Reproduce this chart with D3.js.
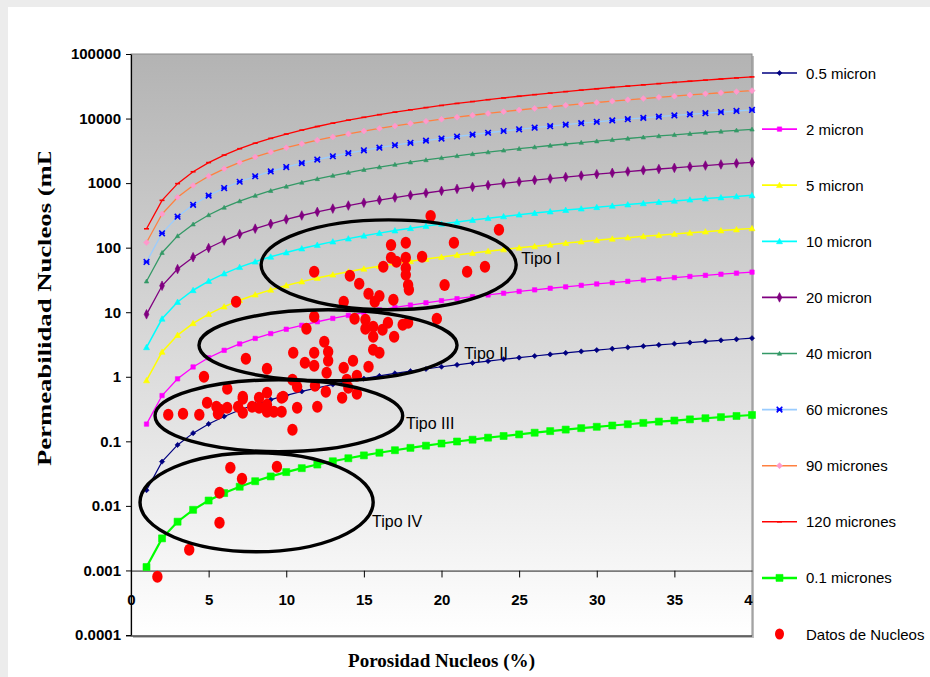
<!DOCTYPE html>
<html><head><meta charset="utf-8">
<script src="https://cdn.jsdelivr.net/npm/d3@7"></script>
<style>body{margin:0;background:#fff}svg{display:block}</style>
</head><body><svg id="c" width="930" height="677"></svg>
<script>
// ---------- DATA ----------
const porosity = [1,2,3,4,5,6,7,8,9,10,11,12,13,14,15,16,17,18,19,20,21,22,23,24,25,26,27,28,29,30,31,32,33,34,35,36,37,38,39,40];
const k_0_5 = [0.0175,0.0485,0.0879,0.134,0.186,0.243,0.306,0.372,0.442,0.516,0.593,0.674,0.759,0.846,0.936,1.03,1.13,1.22,1.32,1.43,1.53,1.64,1.75,1.87,1.98,2.10,2.22,2.34,2.47,2.59,2.72,2.85,2.98,3.12,3.25,3.39,3.53,3.67,3.81,3.96];
const k_2 = [0.185,0.512,0.929,1.42,1.97,2.57,3.23,3.93,4.67,5.45,6.27,7.12,8.02,8.93,9.89,10.9,11.9,12.9,14.0,15.1,16.2,17.4,18.5,19.7,21.0,22.2,23.5,24.7,26.1,27.4,28.7,30.1,31.5,32.9,34.3,35.8,37.3,38.8,40.3,41.8];
const k_5 = [0.879,2.43,4.42,6.74,9.35,12.2,15.3,18.7,22.2,25.9,29.8,33.9,38.1,42.5,47.0,51.7,56.5,61.4,66.5,71.7,77.0,82.5,88.1,93.8,99.6,105,111,118,124,130,137,143,150,156,163,170,177,184,191,199];
const k_10 = [2.86,7.91,14.4,21.9,30.4,39.7,49.9,60.6,72.1,84.2,96.8,110,124,138,153,168,184,200,216,233,250,268,286,305,324,343,362,382,402,423,444,465,486,508,530,553,576,599,622,646];
const k_20 = [9.28,25.7,46.6,71.2,98.8,129,162,197,234,274,315,358,403,449,497,546,597,649,703,758,814,872,930,991,1052,1114,1177,1242,1308,1375,1443,1511,1581,1653,1724,1797,1871,1946,2022,2098];
const k_40 = [30.2,83.6,152,231,321,420,527,641,762,889,1023,1163,1308,1458,1614,1775,1940,2110,2284,2463,2646,2833,3024,3220,3419,3622,3827,4038,4252,4470,4690,4913,5140,5372,5604,5843,6081,6326,6573,6821];
const k_60 = [60.1,167,302,461,640,837,1050,1277,1518,1772,2039,2317,2607,2906,3217,3537,3866,4204,4551,4908,5273,5646,6026,6417,6814,7217,7626,8047,8474,8907,9346,9791,10242,10705,11168,11643,12118,12605,13098,13592];
const k_90 = [120,332,602,919,1275,1666,2092,2543,3024,3531,4061,4616,5193,5789,6408,7045,7701,8375,9066,9777,10504,11247,12004,12783,13573,14376,15191,16029,16880,17742,18617,19503,20402,21324,22247,23193,24140,25110,26092,27075];
const k_120 = [196,541,982,1499,2080,2719,3413,4150,4934,5761,6627,7533,8475,9447,10457,11497,12567,13667,14795,15955,17141,18354,19589,20860,22150,23460,24789,26158,27546,28954,30381,31827,33294,34799,36304,37849,39393,40977,42580,44183];
const k_0_1 = [0.00113,0.00314,0.00569,0.00869,0.0121,0.0158,0.0198,0.0241,0.0286,0.0334,0.0384,0.0437,0.0491,0.0547,0.0606,0.0666,0.0728,0.0792,0.0857,0.0925,0.0993,0.106,0.114,0.121,0.128,0.136,0.144,0.152,0.160,0.168,0.176,0.184,0.193,0.202,0.210,0.219,0.228,0.237,0.247,0.256];

const seriesNames = ["0.5 micron","2 micron","5 micron","10 micron","20 micron","40 micron","60 micrones","90 micrones","120 micrones","0.1 micrones"];
const seriesValues = [k_0_5,k_2,k_5,k_10,k_20,k_40,k_60,k_90,k_120,k_0_1];

const coreLabel = "Datos de Nucleos";
const corePorosity = [19.3,23.7,16.75,17.7,20.8,16.75,17.1,17.7,18.75,16.25,17.7,11.8,14.1,17.7,21.65,22.8,14.7,17.85,20.2,17.9,15.3,16.0,15.7,16.9,13.7,6.77,11.8,14.4,15.1,15.1,15.6,16.2,16.55,17.5,17.85,19.7,15.6,16.95,11.3,12.45,12.7,11.8,10.45,15.6,16.0,7.4,11.2,11.8,12.7,14.3,8.76,12.6,13.7,15.3,14.55,4.7,6.2,10.4,10.7,11.85,12.55,13.9,14.0,7.2,8.76,9.8,13.6,14.55,4.9,5.5,5.75,6.2,6.9,7.2,7.8,8.25,8.25,8.76,8.76,9.2,9.7,9.7,7.2,5.6,2.4,3.35,4.4,10.7,12.0,10.4,6.4,9.4,7.15,5.7,5.7,3.75,1.7];
const corePerm = [310,189,110,119,119,69.5,60.3,69.5,72.1,50.5,48.6,42.2,36.6,37.9,42.2,50.5,27.5,26.5,26.5,22.2,19.3,17.9,14.5,15.6,14.5,14.5,8.49,7.91,7.63,5.53,5.94,5.34,6.85,6.38,6.85,7.91,4.16,4.16,5.53,3.48,2.44,2.36,2.36,2.62,2.36,1.90,1.65,1.48,1.77,1.77,1.33,1.15,1.38,1.43,1.04,1.00,0.652,0.899,0.700,0.726,0.586,0.899,0.676,0.490,0.565,0.490,0.473,0.546,0.396,0.344,0.308,0.331,0.344,0.456,0.344,0.473,0.331,0.369,0.287,0.287,0.473,0.287,0.277,0.267,0.258,0.267,0.258,0.331,0.344,0.151,0.0390,0.0405,0.0264,0.0160,0.0055,0.0021,0.0008];

const xTicks = [0,5,10,15,20,25,30,35,40];
const yTicks = [0.0001,0.001,0.01,0.1,1,10,100,1000,10000,100000];
const yTickLabels = ["0.0001","0.001","0.01","0.1","1","10","100","1000","10000","100000"];

// zones (annotation ellipses) in data units: porosity range, permeability range; label anchor
const zoneNames = ["Tipo I","Tipo II","Tipo III","Tipo IV"];
const zonePhiMin = [8.38,4.38,1.55,0.58];
const zonePhiMax = [24.81,21.0,17.5,15.6];
const zoneKMax = [269,10.9,0.899,0.0667];
const zoneKMin = [10.9,0.867,0.069,0.00195];
const zoneLabelPhi = [25.13,21.46,17.72,15.53];
const zoneLabelK = [69.5,2.36,0.194,0.0059];

const xTitle = "Porosidad Nucleos (%)";
const yTitle = "Permeabilidad Nucleos (mD)";

// ---------- STYLE ----------
const SANS = "'Liberation Sans', Arial, sans-serif";
const SERIF = "'Liberation Serif', 'Times New Roman', serif";
const styles = [
  {line:"#000080", mark:"#000080", sym:"diamond", s:2.6, w:1.2},
  {line:"#ff00ff", mark:"#ff00ff", sym:"square", s:2.2, w:1.3},
  {line:"#ffff00", mark:"#ffff00", sym:"triangle", s:3, w:1.5},
  {line:"#00ffff", mark:"#00ffff", sym:"triangle", s:3, w:1.5},
  {line:"#800080", mark:"#800080", sym:"tall", s:3, w:1.3},
  {line:"#339966", mark:"#339966", sym:"triangle", s:2.2, w:1.3},
  {line:"#99ccff", mark:"#0000ff", sym:"x", s:2.8, w:1.3},
  {line:"#ff8040", mark:"#ff99cc", sym:"diamond", s:3, w:1.3},
  {line:"#ff0000", mark:"#ff0000", sym:"dash", s:2.5, w:1.3},
  {line:"#00ff00", mark:"#00ff00", sym:"square", s:3.5, w:2.2}
];

const svg = d3.select("#c");
const W = 930, H = 677;
const x = d3.scaleLinear().domain([0,40]).range([131,752]);
const y = d3.scaleLog().domain([0.0001,100000]).range([635,54]);

const defs = svg.append("defs");
const g1 = defs.append("linearGradient").attr("id","bg").attr("x1",0).attr("y1",0).attr("x2",0).attr("y2",1);
g1.append("stop").attr("offset","0").attr("stop-color","#b3b3b3");
g1.append("stop").attr("offset","1").attr("stop-color","#ffffff");
defs.append("clipPath").attr("id","xclip").append("rect").attr("x",0).attr("y",0).attr("width",753).attr("height",H);
defs.append("clipPath").attr("id","yclip").append("rect").attr("x",0).attr("y",152).attr("width",120).attr("height",400);

// page
svg.append("rect").attr("width",W).attr("height",H).attr("fill","#fff");
svg.append("rect").attr("width",W).attr("height",7).attr("fill","#ececec");
svg.append("rect").attr("width",8).attr("height",H).attr("fill","#ececec");

// plot area
const [x0,x1] = x.range(); const yTop = y(100000), yBot = y(0.0001);
svg.append("rect").attr("x",x0+2).attr("y",yTop+2).attr("width",x1-x0).attr("height",yBot-yTop+1).attr("fill","#bdbdbd");
svg.append("rect").attr("x",x0).attr("y",yTop).attr("width",x1-x0).attr("height",yBot-yTop+1)
  .attr("fill","url(#bg)").attr("stroke","#8a8a8a").attr("stroke-width",1);
svg.append("line").attr("x1",x0-5).attr("x2",x1).attr("y1",yBot+1).attr("y2",yBot+1).attr("stroke","#222").attr("stroke-width",1.2);

// y axis
const yAxis = d3.axisLeft(y).tickValues(yTicks).tickSize(5).tickSizeOuter(0).tickPadding(5)
  .tickFormat((d,i)=>yTickLabels[i]);
const ya = svg.append("g").attr("transform",`translate(${x0},0)`).call(yAxis);
ya.select(".domain").attr("stroke","#000").attr("stroke-width",1.2);
ya.selectAll(".tick line").attr("stroke","#000");
ya.selectAll("text").attr("font-family",SANS).attr("font-weight","bold").attr("font-size",15).attr("fill","#000");

// x axis at k = 0.001
const xAxis = d3.axisBottom(x).tickValues(xTicks).tickSize(7).tickSizeOuter(0).tickPadding(17).tickFormat(d=>String(d));
const xa = svg.append("g").attr("transform",`translate(0,${y(0.001)})`).call(xAxis);
xa.attr("clip-path","url(#xclip)");
xa.select(".domain").attr("stroke","#000").attr("stroke-width",1.2);
xa.selectAll(".tick line").attr("stroke","#000").attr("opacity",(d)=> (d===0||d===40)?0:1);
xa.selectAll("text").attr("font-family",SANS).attr("font-weight","bold").attr("font-size",15).attr("fill","#000");

// marker paths
function markerPath(sym, s){
  switch(sym){
    case "diamond": return `M0,${-s}L${s},0L0,${s}L${-s},0Z`;
    case "tall": return `M0,${-s*1.6}L${s*0.8},0L0,${s*1.6}L${-s*0.8},0Z`;
    case "square": return `M${-s},${-s}H${s}V${s}H${-s}Z`;
    case "triangle": return `M0,${-s}L${s},${s*0.8}L${-s},${s*0.8}Z`;
    case "x": return `M${-s},${-s}L${s},${s}M${s},${-s}L${-s},${s}M${-s},0H${s}`;
    case "dash": return `M${-s},0H${s}`;
  }
}

// curves
const line = d3.line().x(d=>x(d[0])).y(d=>y(d[1]));
const curves = svg.append("g");
seriesValues.forEach((vals,i)=>{
  const st = styles[i];
  const pts = porosity.map((p,j)=>[p,vals[j]]);
  const g = curves.append("g");
  g.append("path").attr("d",line(pts)).attr("fill","none").attr("stroke",st.line).attr("stroke-width",st.w);
  const lineMark = (st.sym==="x"||st.sym==="dash");
  g.selectAll("path.m").data(pts).join("path").attr("class","m")
    .attr("transform",d=>`translate(${x(d[0])},${y(d[1])})`)
    .attr("d",markerPath(st.sym,st.s))
    .attr("fill",lineMark?"none":st.mark)
    .attr("stroke",st.mark).attr("stroke-width",lineMark?1.6:0.6);
});

// core data
const cores = corePorosity.map((p,i)=>[p,corePerm[i]]);
svg.append("g").selectAll("ellipse").data(cores).join("ellipse")
  .attr("cx",d=>x(d[0])).attr("cy",d=>y(d[1])).attr("rx",5.2).attr("ry",6).attr("fill","#ff0000");

// zone ellipses
const zones = zoneNames.map((n,i)=>({n, a:x(zonePhiMin[i]), b:x(zonePhiMax[i]), t:y(zoneKMax[i]), u:y(zoneKMin[i]),
  lx:x(zoneLabelPhi[i]), ly:y(zoneLabelK[i])}));
const zg = svg.append("g");
zg.selectAll("ellipse").data(zones).join("ellipse")
  .attr("cx",d=>(d.a+d.b)/2).attr("cy",d=>(d.t+d.u)/2)
  .attr("rx",d=>(d.b-d.a)/2).attr("ry",d=>(d.u-d.t)/2)
  .attr("fill","none").attr("stroke","#000").attr("stroke-width",3.4);
zg.selectAll("text").data(zones).join("text")
  .attr("x",d=>d.lx).attr("y",d=>d.ly+6)
  .attr("font-family",SANS).attr("font-size",16).attr("fill","#000").text(d=>d.n);

// titles
svg.append("text").attr("x",(x0+x1)/2).attr("y",667).attr("text-anchor","middle")
  .attr("font-family",SERIF).attr("font-weight","bold").attr("font-size",18)
  .attr("textLength",187).attr("lengthAdjust","spacingAndGlyphs").text(xTitle);
svg.append("g").attr("clip-path","url(#yclip)").append("text")
  .attr("transform","translate(51,466) rotate(-90)")
  .attr("font-family",SERIF).attr("font-weight","bold").attr("font-size",18)
  .attr("textLength",329).attr("lengthAdjust","spacingAndGlyphs").text(yTitle);

// legend
const legendItems = seriesNames.concat([coreLabel]);
const ly = d3.scalePoint().domain(legendItems).range([73,634]);
const lg = svg.append("g");
legendItems.forEach((name,i)=>{
  const yy = ly(name);
  const g = lg.append("g").attr("transform",`translate(0,${yy})`);
  if(i < seriesNames.length){
    const st = styles[i];
    g.append("line").attr("x1",762).attr("x2",797).attr("y1",0).attr("y2",0).attr("stroke",st.line).attr("stroke-width",st.w+0.3);
    const lineMark = (st.sym==="x"||st.sym==="dash");
    g.append("path").attr("transform","translate(779.5,0)").attr("d",markerPath(st.sym,st.s))
      .attr("fill",lineMark?"none":st.mark).attr("stroke",st.mark).attr("stroke-width",lineMark?1.6:0.6);
  } else {
    g.append("ellipse").attr("cx",779.5).attr("cy",0).attr("rx",4.5).attr("ry",5.5).attr("fill","#ff0000");
  }
  g.append("text").attr("x",806).attr("y",5.5).attr("font-family",SANS).attr("font-size",15).attr("fill","#000").text(name);
});
</script></body></html>
